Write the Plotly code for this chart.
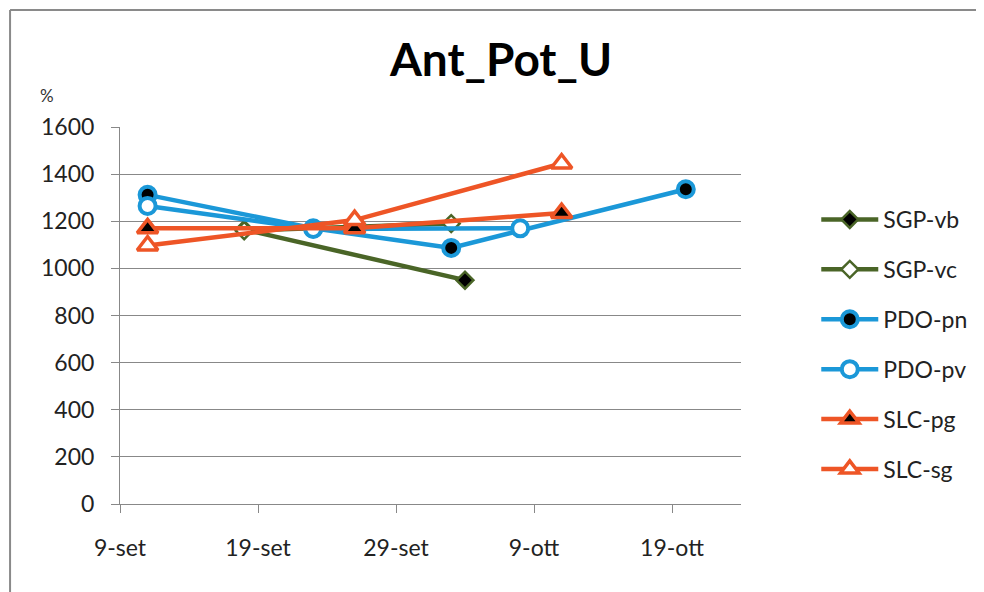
import plotly.graph_objects as go

# ---- data ----
sgp_vb_dates = ["2010-09-18", "2010-10-04"]
sgp_vb_vals = [1165, 950]
sgp_vc_dates = ["2010-09-18", "2010-10-03"]
sgp_vc_vals = [1160, 1190]
pdo_pn_dates = ["2010-09-11", "2010-09-23", "2010-10-03", "2010-10-20"]
pdo_pn_vals = [1312, 1170, 1087, 1336]
pdo_pv_dates = ["2010-09-11", "2010-09-23", "2010-10-08"]
pdo_pv_vals = [1265, 1167, 1170]
slc_pg_dates = ["2010-09-11", "2010-09-26", "2010-10-11"]
slc_pg_vals = [1170, 1170, 1235]
slc_sg_dates = ["2010-09-11", "2010-09-26", "2010-10-11"]
slc_sg_vals = [1097, 1205, 1445]

tick_dates = ["2010-09-09", "2010-09-19", "2010-09-29", "2010-10-09", "2010-10-19"]
tick_labels = ["9-set", "19-set", "29-set", "9-ott", "19-ott"]
y_ticks = [0, 200, 400, 600, 800, 1000, 1200, 1400, 1600]

GREEN = "#4A6527"
BLUE = "#1B98D8"
ORANGE = "#EE5526"

series = [
    ("SGP-vb", sgp_vb_dates, sgp_vb_vals, GREEN, "diamond", "black", 13, 2.5),
    ("SGP-vc", sgp_vc_dates, sgp_vc_vals, GREEN, "diamond", "white", 13, 2.5),
    ("PDO-pn", pdo_pn_dates, pdo_pn_vals, BLUE, "circle", "black", 16, 4),
    ("PDO-pv", pdo_pv_dates, pdo_pv_vals, BLUE, "circle", "white", 16, 4),
    ("SLC-pg", slc_pg_dates, slc_pg_vals, ORANGE, "triangle-up", "black", 18, 3.5),
    ("SLC-sg", slc_sg_dates, slc_sg_vals, ORANGE, "triangle-up", "white", 18, 3.5),
]

fig = go.Figure()
for name, xs, ys, col, sym, fill, size, lw in series:
    fig.add_trace(go.Scatter(
        x=xs, y=ys, name=name, mode="lines+markers", legendgroup=name,
        line=dict(color=col, width=4.5),
        marker=dict(symbol=sym, size=size, color=fill, line=dict(color=col, width=lw)),
    ))

FONT = "Lato, 'Open Sans', sans-serif"

# figure is placed at an 8px page offset; plot area spans (112..739, 119..496) in figure px
W, H = 976, 584
L, R, T, B = 112, 739, 119, 496
PW, PH = R - L, B - T

fig.update_layout(
    width=W, height=H,
    margin=dict(l=L, r=W - R, t=T, b=H - B),
    paper_bgcolor="white", plot_bgcolor="white",
    font=dict(family=FONT, size=23, color="#222"),
    title=dict(text="<b>Ant_Pot_U</b>", x=493 / W, xanchor="center",
               y=1 - 52 / H, yanchor="middle",
               font=dict(family=FONT, size=46, color="black")),
    showlegend=True,
    legend=dict(x=(815 - L) / PW, xanchor="left", y=(B - 190) / PH, yanchor="top",
                tracegroupgap=17, itemwidth=57, bgcolor="rgba(0,0,0,0)",
                font=dict(family=FONT, size=23, color="#222")),
    xaxis=dict(
        type="date", range=["2010-09-09", "2010-10-24"],
        tickvals=tick_dates, ticktext=tick_labels,
        showgrid=False, showline=True, linecolor="#888", linewidth=1,
        ticks="outside", ticklen=8, tickcolor="#888", ticklabelstandoff=15,
        zeroline=False,
    ),
    yaxis=dict(
        range=[0, 1600], tickvals=y_ticks,
        showgrid=True, gridcolor="#888", gridwidth=1,
        showline=True, linecolor="#888", linewidth=1,
        ticks="outside", ticklen=8, tickcolor="#888", ticklabelstandoff=12,
        zeroline=False,
    ),
    annotations=[dict(text="%", xref="paper", yref="paper",
                      x=(38 - L) / PW, y=(B - 87) / PH,
                      xanchor="center", yanchor="middle", showarrow=False,
                      font=dict(family=FONT, size=17, color="#333"))],
    shapes=[
        dict(type="line", xref="paper", yref="paper",
             x0=(1 - L) / PW, y0=-1, x1=(1 - L) / PW, y1=(B - 2) / PH,
             line=dict(color="#8a8a8a", width=2), layer="below"),
        dict(type="line", xref="paper", yref="paper",
             x0=(1 - L) / PW, y0=(B - 2) / PH, x1=(W + 20 - L) / PW, y1=(B - 2) / PH,
             line=dict(color="#8a8a8a", width=2), layer="below"),
    ],
)

fig.write_html("out.html")
